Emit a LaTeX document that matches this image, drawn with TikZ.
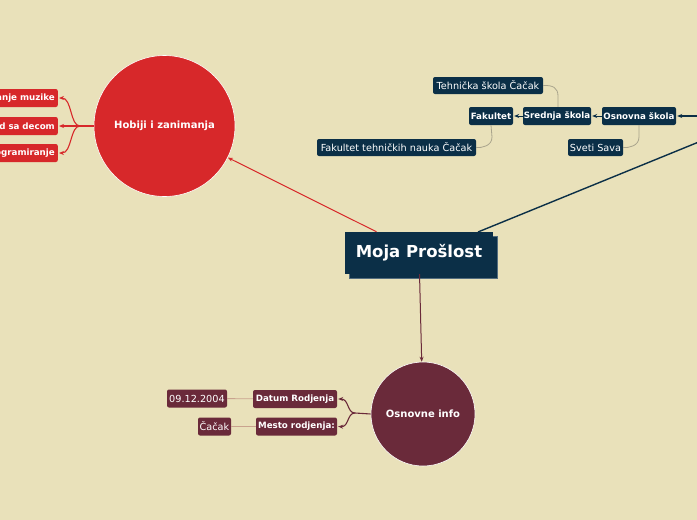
\documentclass[tikz,border=0pt]{standalone}
\usepackage{fontspec}
\setmainfont{DejaVu Sans}
\usetikzlibrary{arrows.meta}
\definecolor{bg}{HTML}{E9E1BA}
\definecolor{navy}{HTML}{0B2F47}
\definecolor{hred}{HTML}{D7282A}
\definecolor{maroon}{HTML}{6A2A3A}
\definecolor{gline}{HTML}{A9A48C}
\definecolor{pline}{HTML}{C9A38E}
\begin{document}
\begin{tikzpicture}[x=1pt,y=-1pt,
  box/.style={rounded corners=2pt, inner sep=0pt, text=white, minimum height=18pt},
  navybox/.style={box, fill=navy},
  redbox/.style={box, fill=hred},
  marbox/.style={box, fill=maroon},
  bsmall/.style={font=\fontsize{8.7}{10}\selectfont\bfseries},
  rsmall/.style={font=\fontsize{9.7}{11}\selectfont},
  tip/.style={-{Stealth[length=5pt,width=4pt]}},
  con/.style={line width=1.1pt}
]
\useasboundingbox[fill=bg] (0,0) rectangle (697,520);

% central topic
\node[fill=navy, draw=navy!70!white, line width=0.4pt, minimum width=148pt, minimum height=42pt, inner sep=0pt] (cs) at (423,257) {};
\node[fill=navy, minimum width=148pt, minimum height=42pt, inner sep=0pt, text=white, font=\fontsize{16.5}{18}\selectfont\bfseries] (c) at (419,253) {Moja Prošlost};

% main topics
\node[circle, fill=hred, draw=white, line width=0.6pt, minimum size=141pt, inner sep=0pt, text=white, font=\fontsize{10}{12}\selectfont\bfseries] (hob) at (164.5,126) {Hobiji i zanimanja};
\node[circle, fill=maroon, draw=white, line width=0.6pt, minimum size=104pt, inner sep=0pt, text=white, font=\fontsize{10}{12}\selectfont\bfseries] (osn) at (423,414) {Osnovne info};

\coordinate (ctop) at (478,232);
\coordinate (far) at (760,117);
\coordinate (farB) at (730,116);

% connectors from central
\draw[hred, con, line width=1pt, tip] (c) -- (hob);
\draw[maroon, con, line width=1pt, tip] (c) -- (osn);
\draw[navy, con, line width=1.4pt] (ctop) -- (far);

% Hobiji children
\node[redbox, bsmall, anchor=east, text width=90pt, align=right] (h1) at (58,98) {anje muzike\hspace*{3pt}};
\node[redbox, bsmall, anchor=east, text width=90pt, align=right] (h2) at (58,126) {d sa decom\hspace*{3pt}};
\node[redbox, bsmall, anchor=east, text width=90pt, align=right] (h3) at (58,153) {ogramiranje\hspace*{3pt}};
\coordinate (hf) at (80,126);
\draw[hred, con] (hob.west) -- (hf);
\draw[hred, con, tip] (hf) .. controls (70,126) and (72,98) .. ([xshift=1pt]h1.east);
\draw[hred, con, tip] (hf) -- ([xshift=1pt]h2.east);
\draw[hred, con, tip] (hf) .. controls (70,126) and (72,153) .. ([xshift=1pt]h3.east);

% Osnovne children
\node[marbox, bsmall, minimum width=84pt] (o1) at (295,399) {Datum Rodjenja};
\node[marbox, bsmall, minimum width=81pt] (o2) at (296.5,426.5) {Mesto rodjenja:};
\node[marbox, rsmall, minimum width=60pt] (o11) at (197,398.5) {09.12.2004};
\node[marbox, rsmall, minimum width=33pt] (o21) at (214.5,426.5) {Čačak};
\coordinate (of) at (355,413);
\draw[maroon, con] (osn.west) -- (of);
\draw[maroon, con, tip] (of) .. controls (347,413) and (349,399) .. ([xshift=1pt]o1.east);
\draw[maroon, con, tip] (of) .. controls (347,413) and (349,427) .. ([xshift=1pt]o2.east);
\draw[pline, line width=0.9pt] (o11) -- (o1);
\draw[pline, line width=0.9pt] (o21) -- (o2);

% school branch
\node[navybox, bsmall, minimum width=74pt] (s1) at (639,116) {Osnovna škola};
\node[navybox, bsmall, minimum width=68pt] (s2) at (557,116) {Srednja škola};
\node[navybox, bsmall, minimum width=44pt] (s3) at (491,116) {Fakultet};
\node[navybox, rsmall, minimum width=110pt, minimum height=17pt] (t1) at (488,85.5) {Tehnička škola Čačak};
\node[navybox, rsmall, minimum width=159pt, minimum height=17pt] (t2) at (396.5,147.5) {Fakultet tehničkih nauka Čačak};
\node[navybox, rsmall, minimum width=55pt, minimum height=17pt] (t3) at (595.5,147.5) {Sveti Sava};

\draw[navy, line width=1.4pt, tip] (farB) -- ([xshift=1pt]s1.east);
\draw[navy, line width=1pt, tip] (s1.west) -- ([xshift=1pt]s2.east);
\draw[navy, line width=1pt, tip] (s2.west) -- ([xshift=1pt]s3.east);
\draw[gline, line width=0.8pt] (t1.east) .. controls (553,85) and (558,88) .. (558,96) -- (s2.north -| 558,0);
\draw[gline, line width=0.8pt] (s3.south) -- (492,137) .. controls (492,146) and (482,148) .. (t2.east);
\draw[gline, line width=0.8pt] (s1.south) -- (639,137) .. controls (639,146) and (629,148) .. (t3.east);
\end{tikzpicture}
\end{document}
